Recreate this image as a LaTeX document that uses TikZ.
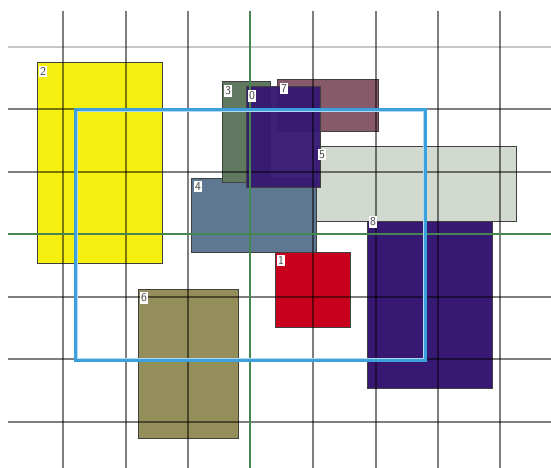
\documentclass[tikz,border=0pt]{standalone}
\usepackage{tikz}
\usetikzlibrary{positioning, calc}
\usepackage{xcolor}

\definecolor{rYellow}{RGB}{245,240,15}
\definecolor{rSage}{RGB}{95,120,95}
\definecolor{rPurple}{RGB}{55,25,115}
\definecolor{rMauve}{RGB}{135,90,105}
\definecolor{rSteel}{RGB}{95,120,145}
\definecolor{rPale}{RGB}{210,218,208}
\definecolor{rRed}{RGB}{200,0,30}
\definecolor{rOlive}{RGB}{148,142,90}
\definecolor{rBlue}{RGB}{60,160,220}
\definecolor{rGreen}{RGB}{70,135,80}

\begin{document}
\begin{tikzpicture}[
  x=1pt, y=-1pt,
  font=\sffamily\fontsize{12}{12}\selectfont,
  box/.style={draw=black!75, line width=1pt},
  tag/.style={fill=white, inner xsep=1pt, inner ysep=1.5pt, anchor=north west, text=black!75},
  gridline/.style={draw=black, opacity=0.5, line width=1.5pt},
  axis/.style={draw=rGreen, line width=1.6pt},
  frame/.style={draw=rBlue, line width=3.5pt},
]
  \useasboundingbox[fill=white] (0,0) rectangle (551,468);

  % rectangles, back to front
  \draw[box, fill=rPurple] (367,213) rectangle (492,388);
  \draw[box, fill=rPale]   (316,146) rectangle (516,221);
  \draw[box, fill=rSteel]  (191,178) rectangle (316,252);
  \draw[box, fill=rSage]   (222,82)  rectangle (270,182);
  \draw[box, fill=rMauve]  (277,80)  rectangle (378,131);
  \draw[box, fill=rPurple, fill opacity=0.96] (246,87) rectangle (320,187);
  \draw[box, fill=rRed]    (275,252) rectangle (350,327);
  \draw[box, fill=rYellow] (37,63)   rectangle (162,263);
  \draw[box, fill=rOlive]  (138,289) rectangle (238,438);

  % grid
  \draw[draw=black!22, line width=2.2pt] (8,47) -- (551,47);
  \foreach \gx in {63,126,188,313,376,438,500}
    \draw[gridline] (\gx,11) -- (\gx,468);
  \foreach \gy in {109,172,297,359,422}
    \draw[gridline] (8,\gy) -- (551,\gy);
  \draw[axis] (250,11) -- (250,468);
  \draw[axis] (8,234) -- (551,234);

  % selection frame
  \draw[frame] (76,110) rectangle (425,360);
  \draw[white, line width=0.5pt, opacity=0.6] (77.5,111.5) rectangle (423.5,358.5);

  % tags
  \node[tag] (t2) at (39,66)  {2};
  \node[tag] (t3) at (224,85) {3};
  \node[tag] (t0) at (248,90) {0};
  \node[tag] (t7) at (280,83) {7};
  \node[tag] (t5) at (318,149) {5};
  \node[tag] (t4) at (194,181) {4};
  \node[tag] (t8) at (369,216) {8};
  \node[tag] (t1) at (277,255) {1};
  \node[tag] (t6) at (140,292) {6};
\end{tikzpicture}
\end{document}
